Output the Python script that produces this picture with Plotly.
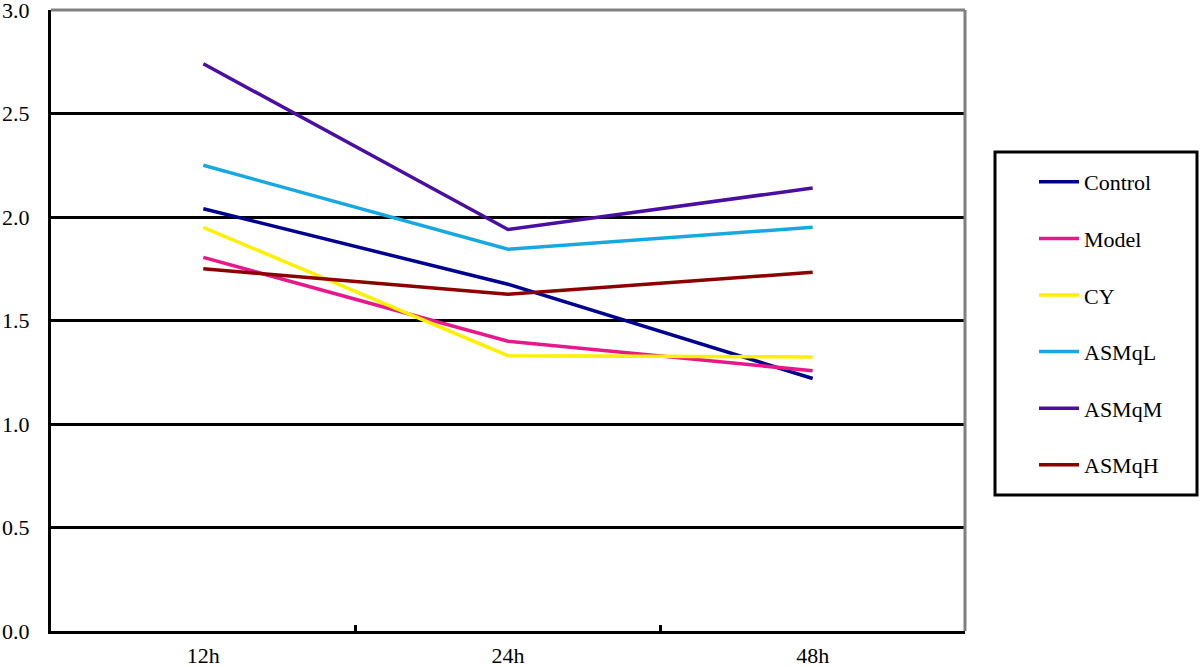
import plotly.graph_objects as go

categories = ["12h", "24h", "48h"]
series_names = ["Control", "Model", "CY", "ASMqL", "ASMqM", "ASMqH"]
control = [2.04, 1.675, 1.22]
model = [1.805, 1.40, 1.257]
cy = [1.95, 1.33, 1.324]
asmql = [2.25, 1.844, 1.95]
asmqm = [2.74, 1.94, 2.14]
asmqh = [1.75, 1.627, 1.733]
y_ticks = [0.0, 0.5, 1.0, 1.5, 2.0, 2.5, 3.0]
y_ticklabels = ["0.0", "0.5", "1.0", "1.5", "2.0", "2.5", "3.0"]

colors = ["#00008f", "#e8188a", "#ffef00", "#18a8e0", "#4a0ea0", "#8b0000"]
values = [control, model, cy, asmql, asmqm, asmqh]

FONT = "Liberation Serif"
TOP, BOTTOM = 10, 631
PH = BOTTOM - TOP

fig = go.Figure()
for name, vals, col in zip(series_names, values, colors):
    fig.add_trace(go.Scatter(
        x=categories, y=vals, mode="lines", name=name,
        legendgroup=name,
        line=dict(color=col, width=3.5),
    ))

fig.update_layout(
    width=1200, height=667,
    margin=dict(l=51, r=235, t=TOP, b=667 - BOTTOM, autoexpand=False),
    plot_bgcolor="white", paper_bgcolor="white",
    showlegend=True,
    legend=dict(
        x=(1034 - 51) / 914, y=(BOTTOM - 161) / PH, xanchor="left", yanchor="top",
        bgcolor="rgba(0,0,0,0)", borderwidth=0,
        font=dict(family=FONT, size=22, color="black"),
        tracegroupgap=25, itemwidth=40,
    ),
    xaxis=dict(
        type="category", range=[-0.5, 2.5],
        showline=True, linecolor="black", linewidth=3,
        showgrid=False, zeroline=False,
        ticks="inside", tickson="boundaries", ticklen=6, tickwidth=3, tickcolor="black",
        tickfont=dict(family=FONT, size=22, color="black"),
        ticklabelstandoff=3,
    ),
    yaxis=dict(
        range=[0, 3], tickvals=y_ticks, ticktext=y_ticklabels,
        showline=True, linecolor="black", linewidth=3,
        showgrid=True, gridcolor="black", gridwidth=3,
        zeroline=False, ticks="",
        tickfont=dict(family=FONT, size=22, color="black"),
        ticklabelstandoff=14, ticklabeloverflow="allow",
    ),
    shapes=[
        dict(type="line", xref="paper", yref="paper", x0=0, x1=1, y0=1, y1=1,
             line=dict(color="#808080", width=3), layer="above"),
        dict(type="line", xref="paper", yref="paper", x0=1, x1=1, y0=0, y1=1,
             line=dict(color="#808080", width=3), layer="above"),
        dict(type="rect", xref="paper", yref="paper",
             x0=(995 - 51) / 914, x1=(1197 - 51) / 914,
             y0=(BOTTOM - 495) / PH, y1=(BOTTOM - 152) / PH,
             line=dict(color="black", width=3), fillcolor="rgba(0,0,0,0)"),
    ],
)

fig.write_html("out.html", config={"displayModeBar": False},
               post_script="document.body.style.margin='0';")
